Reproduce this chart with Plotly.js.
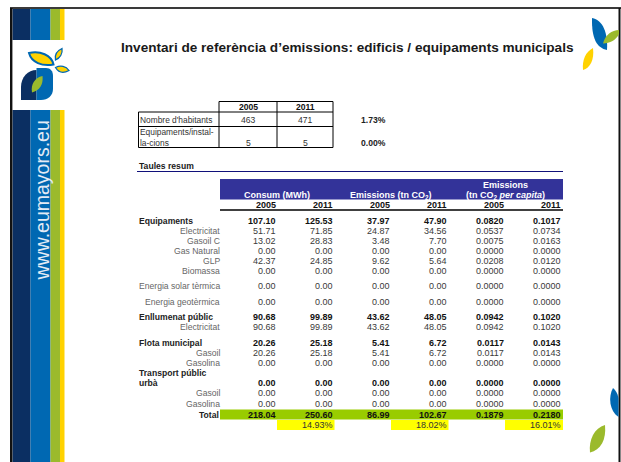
<!DOCTYPE html>
<html><head><meta charset="utf-8">
<script src="https://cdn.plot.ly/plotly-3.0.1.min.js"></script>
<style>html,body{margin:0;padding:0;background:#fff;}#chart{width:621px;height:462px;}</style>
</head><body><div id="chart"></div>
<script>
// ---------------- data ----------------
const slideTitle = "Inventari de referència d’emissions: edificis / equipaments municipals";
const years = ["2005", "2011"];
const popLabels = ["Nombre d'habitants", "Equipaments/instal-<br>la-cions"];
const pop2005 = [463, 5];
const pop2011 = [471, 5];
const popChange = ["1.73%", "0.00%"];
const sectionTitle = "Taules resum";
const groupHeaders = ["Consum (MWh)", "Emissions (tn CO<sub>2</sub>)", "Emissions<br>(tn CO<sub>2</sub> <i>per capita</i>)"];
const rowLabels = ["Equipaments", "Electricitat", "Gasoil C", "Gas Natural", "GLP", "Biomassa",
  "Energia solar tèrmica", "Energia geotèrmica", "Enllumenat públic", "Electricitat",
  "Flota municipal", "Gasoil", "Gasolina", "Transport públic<br>urbà", "Gasoil", "Gasolina"];
const rowLevel = [0, 1, 1, 1, 1, 1, 1, 1, 0, 1, 0, 1, 1, 0, 1, 1];
const consum2005 = [107.10, 51.71, 13.02, 0.00, 42.37, 0.00, 0.00, 0.00, 90.68, 90.68, 20.26, 20.26, 0.00, 0.00, 0.00, 0.00];
const consum2011 = [125.53, 71.85, 28.83, 0.00, 24.85, 0.00, 0.00, 0.00, 99.89, 99.89, 25.18, 25.18, 0.00, 0.00, 0.00, 0.00];
const emis2005 = [37.97, 24.87, 3.48, 0.00, 9.62, 0.00, 0.00, 0.00, 43.62, 43.62, 5.41, 5.41, 0.00, 0.00, 0.00, 0.00];
const emis2011 = [47.90, 34.56, 7.70, 0.00, 5.64, 0.00, 0.00, 0.00, 48.05, 48.05, 6.72, 6.72, 0.00, 0.00, 0.00, 0.00];
const capita2005 = [0.0820, 0.0537, 0.0075, 0.0000, 0.0208, 0.0000, 0.0000, 0.0000, 0.0942, 0.0942, 0.0117, 0.0117, 0.0000, 0.0000, 0.0000, 0.0000];
const capita2011 = [0.1017, 0.0734, 0.0163, 0.0000, 0.0120, 0.0000, 0.0000, 0.0000, 0.1020, 0.1020, 0.0143, 0.0143, 0.0000, 0.0000, 0.0000, 0.0000];
const totalLabel = "Total";
const totals = [218.04, 250.60, 86.99, 102.67, 0.1879, 0.2180];
const totalChange = ["14.93%", "18.02%", "16.01%"];
const siteText = "www.eumayors.eu";

// ---------------- layout / style ----------------
const FONT = "Liberation Sans, Arial, Helvetica, sans-serif";
const FS = 9;
const FS_LABEL = 8.6;
const colEdges = [220, 277, 334, 391, 448, 505, 562.5];
const rowY = [221, 231, 241, 251, 261, 271, 286, 301.5, 317, 326.5, 343, 353, 363, 383, 393, 403.5];
const LINE_STEP = 10;
const totalY = 414.5, changeY = 425;
const labelLeft = 137.5, labelRight = 220.5;
const smallCols = [138.5, 219, 277, 333];
const smallLines = [101.5, 112, 126.5, 147.5];
const smallRowY = [119.5, 143];
const smallHeadY = 107;
const decimals = [2, 2, 2, 2, 4, 4];

const series = [consum2005, consum2011, emis2005, emis2011, capita2005, capita2011];
const shapes = [];
const ann = [];

function rect(x0, y0, x1, y1, color, extra) {
  shapes.push(Object.assign({type: 'rect', xref: 'x', yref: 'y', x0, y0, x1, y1, fillcolor: color, line: {width: 0}, layer: 'below'}, extra || {}));
}
function line(x0, y0, x1, y1, color, w) {
  shapes.push({type: 'line', xref: 'x', yref: 'y', x0, y0, x1, y1, line: {color, width: w}, layer: 'above'});
}
function path(d, fill, lineColor, lw) {
  shapes.push({type: 'path', xref: 'x', yref: 'y', path: d, fillcolor: fill, line: {color: lineColor || fill, width: lw || 0}, layer: 'above'});
}
function text(t, x, y, opts) {
  opts = opts || {};
  ann.push({
    text: t, x, y, xref: 'x', yref: 'y', showarrow: false,
    xanchor: opts.xa || 'center', yanchor: opts.ya || 'middle', align: opts.align || 'center',
    textangle: opts.angle || 0, borderpad: 0,
    font: {family: FONT, size: opts.size || FS, color: opts.color || '#222', weight: opts.bold ? 700 : 400}
  });
}

// ---- decoration: frame & stripes ----
const stripes = [[12.5, 30.5, '#0b2f62'], [30.5, 50.5, '#0068b2'], [50.5, 60, '#9bba2c'], [60, 64.5, '#ffd200']];
stripes.forEach(s => { rect(s[0], 9, s[1], 40, s[2]); rect(s[0], 110, s[1], 462, s[2]); });
line(10, 8, 621, 8, '#3a3a3a', 2);
line(11.2, 8, 11.2, 462, '#111', 2.4);
line(619.5, 8, 619.5, 462, '#111', 2);
text(siteText, 41.5, 201, {angle: -90, size: 19.5, color: '#e3ebf5'});

// left logo
path('M 36.5 70 C 28 70 21 77 21 87 L 21 100 L 36.5 100 Z', '#0b2f62');
path('M 36.5 68 L 46 68 C 50.5 68 53 71 53 76 L 53 89 C 53 95.5 48 100 41 100 L 36.5 100 Z', '#0068b2');
path('M 42.5 76 C 35 77.5 30.5 84 32 92.5 C 39.5 90.5 43.5 84.5 42.5 76 Z', '#9bba2c');
path('M 29 53 C 40 50.5 51.5 55 53.5 64.5 C 42 66.5 31.5 62.5 29 53 Z', '#ffd200', '#0068b2', 2);
path('M 62 48.5 C 56.5 51 54.5 55.5 55.5 60 C 60 58 62.8 53.5 62 48.5 Z', '#ffd200', '#0068b2', 1.3);
path('M 55.5 67.5 C 60.5 65 66 66 69 70.5 C 63.5 73.5 58.5 72.5 55.5 67.5 Z', '#ffd200', '#0068b2', 1.3);

// right leaves
path('M 592 18 C 603 20 608 33 607 50 C 597 48 591.5 39 592 18 Z', '#0068b2');
path('M 603 43.5 C 605 35 612 30 619 30 L 619 34 C 616 40 610 43.5 603 43.5 Z', '#9bba2c');
path('M 593 48 C 585.5 52 582 60 583 70 C 590 68 594.5 60 593 48 Z', '#ffd200');
path('M 613 388 C 608 397 609.5 411 618.5 417 L 618.5 398 C 617.5 393 615.5 390 613 388 Z', '#0068b2');
path('M 605 425 C 594.5 428 588.5 439.5 590 452.5 C 600.5 450 606.5 440 605 425 Z', '#9bba2c');

// ---- title ----
text(slideTitle, 347, 47, {size: 13.6, bold: true, color: '#1a1a1a'});

// ---- small population table ----
line(smallCols[1], smallLines[0], smallCols[3], smallLines[0], '#000', 1);
for (let k = 1; k < smallLines.length; k++) line(smallCols[0], smallLines[k], smallCols[3], smallLines[k], '#000', 1);
line(smallCols[0], smallLines[1], smallCols[0], smallLines[3], '#000', 1);
for (let k = 1; k < smallCols.length; k++) line(smallCols[k], smallLines[0], smallCols[k], smallLines[3], '#000', 1);
years.forEach((yr, j) => text(yr, (smallCols[j + 1] + smallCols[j + 2]) / 2, smallHeadY, {bold: true, color: '#111', size: 8.6}));
popLabels.forEach((lab, i) => {
  const parts = lab.split('<br>');
  parts.forEach((p, k) => text(p, smallCols[0] + 0.8, smallRowY[i] - (parts.length - 1 - k) * 11.5, {xa: 'left', align: 'left', color: '#333', size: 8.4}));
  text(String(pop2005[i]), (smallCols[1] + smallCols[2]) / 2, smallRowY[i], {color: '#333', size: 8.6});
  text(String(pop2011[i]), (smallCols[2] + smallCols[3]) / 2, smallRowY[i], {color: '#333', size: 8.6});
  text(popChange[i], 360, smallRowY[i], {xa: 'left', bold: true, color: '#222', size: 8.6});
});

// ---- section title ----
text(sectionTitle, labelLeft, 166, {xa: 'left', bold: true, color: '#1a1a1a', size: 8.6});
line(137, 171.5, 563, 171.5, '#10107a', 1);

// ---- main table header ----
rect(colEdges[0], 179, colEdges[6] + 0.5, 199.5, '#333399');
groupHeaders.forEach((h, g) => {
  const cx = (colEdges[2 * g] + colEdges[2 * g + 2]) / 2;
  const parts = h.split('<br>');
  parts.forEach((p, k) => text(p, cx, 195 - (parts.length - 1 - k) * 10.5, {bold: true, color: '#ffffff'}));
});
for (let c = 0; c < 6; c++) text(years[c % 2], colEdges[c + 1] - 0.5, 204.5, {xa: 'right', bold: true, color: '#111'});
line(colEdges[0], 210, colEdges[6] + 0.5, 210, '#000', 1.5);

// ---- main table body ----
rowLabels.forEach((lab, i) => {
  const grp = rowLevel[i] === 0;
  const parts = lab.split('<br>');
  parts.forEach((p, k) => {
    const y = rowY[i] - (parts.length - 1 - k) * LINE_STEP;
    if (grp) text(p, labelLeft, y, {xa: 'left', align: 'left', bold: true, color: '#222', size: FS_LABEL});
    else text(p, labelRight, y, {xa: 'right', align: 'right', color: '#666', size: FS_LABEL});
  });
  series.forEach((s, c) => {
    text(s[i].toFixed(decimals[c]), colEdges[c + 1] - 0.5, rowY[i], {xa: 'right', bold: grp, color: grp ? '#111' : '#3a3a3a'});
  });
});

// ---- totals ----
rect(colEdges[0], totalY - 5, colEdges[6] + 0.5, totalY + 5, '#99cc00');
text(totalLabel, labelRight - 1, totalY, {xa: 'right', bold: true, color: '#222', size: FS_LABEL});
totals.forEach((v, c) => text(v.toFixed(decimals[c]), colEdges[c + 1] - 0.5, totalY, {xa: 'right', bold: true, color: '#111'}));
totalChange.forEach((v, g) => {
  const c = 2 * g + 1;
  rect(colEdges[c], changeY - 5, colEdges[c + 1] + 0.5, changeY + 5, '#ffff00');
  text(v, colEdges[c + 1] - 0.5, changeY, {xa: 'right', color: '#333'});
});

const data = [{type: 'scatter', x: [0], y: [0], mode: 'markers', marker: {opacity: 0}, hoverinfo: 'skip', showlegend: false}];
const layout = {
  width: 621, height: 462, autosize: false,
  margin: {l: 0, r: 0, t: 0, b: 0, pad: 0},
  paper_bgcolor: '#ffffff', plot_bgcolor: '#ffffff',
  xaxis: {range: [0, 621], visible: false, fixedrange: true},
  yaxis: {range: [462, 0], visible: false, fixedrange: true},
  showlegend: false,
  shapes: shapes, annotations: ann
};
Plotly.newPlot('chart', data, layout, {staticPlot: true, displayModeBar: false});
</script>
</body></html>
